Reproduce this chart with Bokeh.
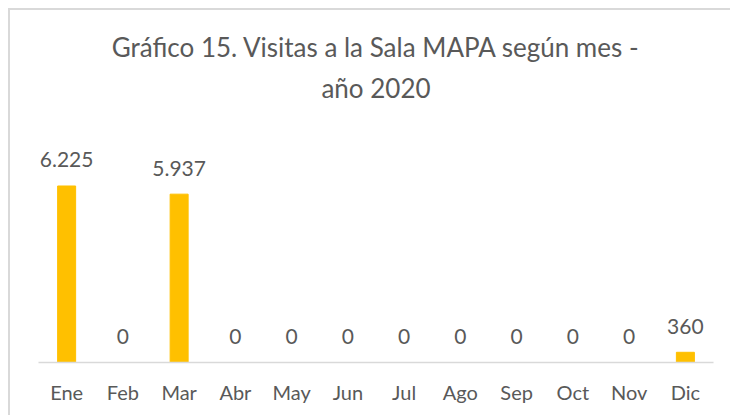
from bokeh.plotting import figure
from bokeh.models import ColumnDataSource, FactorRange, Range1d, Title
from bokeh.core.properties import value
from bokeh.embed import file_html
from bokeh.resources import INLINE

months = ["Ene", "Feb", "Mar", "Abr", "May", "Jun", "Jul", "Ago", "Sep", "Oct", "Nov", "Dic"]
visits = [6225, 0, 5937, 0, 0, 0, 0, 0, 0, 0, 0, 360]
labels = [f"{v:,}".replace(",", ".") for v in visits]
title_lines = ["Gráfico 15. Visitas a la Sala MAPA según mes -", "año 2020"]

FONT = "Lato"
GREY = "#595959"
W, H = 722, 407
TOP, BOTTOM, LEFT, RIGHT = 98, 55, 28, 19
FRAME_H = H - TOP - BOTTOM
Y_END = round(6225 / 176.5 * FRAME_H)

src = ColumnDataSource(dict(m=months, v=visits, t=labels))

p = figure(width=W, height=H, output_backend="svg", toolbar_location=None,
           x_range=FactorRange(*months, range_padding=0), y_range=Range1d(0, Y_END),
           min_border_left=LEFT, min_border_right=RIGHT, min_border_top=TOP,
           min_border_bottom=BOTTOM, outline_line_color=None, tools="")
p.styles = {"margin-left": "8px", "margin-top": "8px",
            "border-left": "2px solid #D9D9D9", "border-top": "2px solid #D9D9D9"}

p.vbar(x="m", top="v", width=0.32, source=src, color="#FFC000")
p.text(x="m", y="v", text="t", source=src, y_offset=-26, text_align="center",
       text_baseline="alphabetic", text_font=value(FONT), text_font_size="21px",
       text_color=GREY)

for txt, so in zip(reversed(title_lines), [10, 4]):
    p.add_layout(Title(text=txt, align="center", text_font=FONT,
                       text_font_size="26px", text_font_style="normal", text_color=GREY,
                       standoff=so, offset=0), "above")

p.yaxis.visible = False
p.grid.visible = False
ax = p.xaxis[0]
ax.axis_line_color = "#D9D9D9"
ax.axis_line_width = 1.5
ax.major_tick_line_color = None
ax.minor_tick_line_color = None
ax.major_label_text_font = FONT
ax.major_label_text_font_size = "20px"
ax.major_label_text_color = GREY
ax.major_label_standoff = 11

open("out.html", "w").write(file_html(p, INLINE))
